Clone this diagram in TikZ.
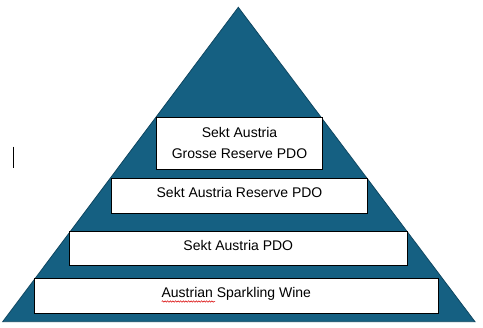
\documentclass[tikz,border=0pt]{standalone}
\usepackage{fontspec}
\setmainfont{Liberation Sans}
\usepackage{tikz}
\usetikzlibrary{positioning,decorations.pathmorphing}

\definecolor{pyrblue}{HTML}{156082}
\definecolor{pyredge}{HTML}{0F4761}

\tikzset{
  tier/.style={draw=black,line width=0.9pt,fill=white,rectangle,inner sep=0pt,
    font=\fontsize{14}{21}\selectfont,text height=0.75em,text depth=0.44em},
  toptier/.style={draw=black,line width=0.9pt,fill=white,rectangle,inner sep=0pt,
    font=\fontsize{14}{21}\selectfont,align=center}
}

\begin{document}
\begin{tikzpicture}[x=1pt,y=-1pt]
  \useasboundingbox (0,0) rectangle (483,328);
  % the pyramid
  \coordinate (apex) at (238.3,7.3);
  \coordinate (baseL) at (2.7,321.7);
  \coordinate (baseR) at (475,321.7);
  \fill[pyrblue,draw=pyredge,line width=0.8pt] (apex) -- (baseL) -- (baseR) -- cycle;
  % tiers, top to bottom
  \node[toptier,minimum width=165.6pt,minimum height=51.7pt] (grosse) at (239.5,143.2)
        {Sekt Austria\\Grosse Reserve PDO};
  \node[tier,minimum width=255.6pt,minimum height=34.6pt] (reserve) at (239.5,196)
        {Sekt Austria Reserve PDO};
  \node[tier,minimum width=338pt,minimum height=34.3pt] (pdo) at (238.3,248.8)
        {Sekt Austria PDO};
  \node[tier,minimum width=404pt,minimum height=34.6pt] (sparkling) at (236.3,296)
        {Austrian Sparkling Wine};
  % spell check squiggle under the first word
  \draw[red!85!black,line width=0.5pt,decorate,
        decoration={snake,amplitude=0.7pt,segment length=2.6pt}]
        (161.7,301.5) -- (215,301.5);
  % text cursor at the left
  \draw[black,line width=0.9pt] (13.3,146.7) -- (13.3,168.3);
\end{tikzpicture}
\end{document}
